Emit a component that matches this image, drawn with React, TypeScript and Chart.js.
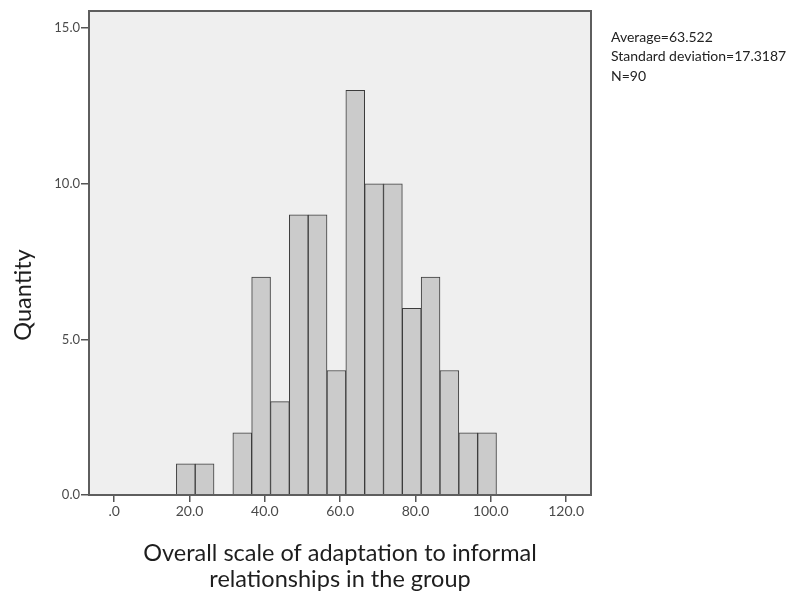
import { useEffect, useRef } from 'react';
import { Chart, registerables } from 'chart.js';

Chart.register(...registerables);

// Histogram bins (center of each 5-unit bin) and their counts
const binCenters = [19, 24, 29, 34, 39, 44, 49, 54, 59, 64, 69, 74, 79, 84, 89, 94, 99];
const counts = [1, 1, 0, 2, 7, 3, 9, 9, 4, 13, 10, 10, 6, 7, 4, 2, 2];

// Axis ticks
const xTicks = [0, 20, 40, 60, 80, 100, 120];
const yTicks = [0, 5, 10, 15];
const xRange = [-6.7, 126.6];
const yRange = [0, 15.55];

// Texts
const yTitle = 'Quantity';
const xTitleLines = ['Overall scale of adaptation to informal', 'relationships in the group'];
const statsLines = ['Average=63.522', 'Standard deviation=17.3187', 'N=90'];

const FONT = 'Lato, "Open Sans", sans-serif';

const fmtX = (v: number) => (v === 0 ? '.0' : v.toFixed(1));
const fmtY = (v: number) => v.toFixed(1);

export default function App() {
  const ref = useRef<HTMLCanvasElement | null>(null);

  useEffect(() => {
    const canvas = ref.current;
    if (!canvas) return;

    const decor = {
      id: 'decor',
      beforeDraw(chart: any) {
        const { ctx, chartArea: a } = chart;
        ctx.save();
        ctx.fillStyle = '#ffffff';
        ctx.fillRect(0, 0, chart.width, chart.height);
        ctx.fillStyle = '#efefef';
        ctx.fillRect(a.left, a.top, a.right - a.left, a.bottom - a.top);
        ctx.restore();
      },
      afterDatasetsDraw(chart: any) {
        const { ctx, chartArea: a } = chart;
        ctx.save();
        ctx.strokeStyle = '#5e5e5e';
        ctx.lineWidth = 2;
        ctx.strokeRect(a.left, a.top, a.right - a.left, a.bottom - a.top);
        ctx.restore();
      },
      afterDraw(chart: any) {
        const { ctx, chartArea: a } = chart;
        ctx.save();
        ctx.fillStyle = '#1e1e1e';
        // y title
        ctx.font = `23.5px ${FONT}`;
        ctx.textAlign = 'center';
        ctx.textBaseline = 'alphabetic';
        ctx.save();
        ctx.translate(31, 295);
        ctx.rotate(-Math.PI / 2);
        ctx.fillText(yTitle, 0, 0);
        ctx.restore();
        // x title
        const cx = (a.left + a.right) / 2;
        ctx.fillText(xTitleLines[0], cx, 561);
        ctx.fillText(xTitleLines[1], cx, 587);
        // stats
        ctx.font = `14px ${FONT}`;
        ctx.textAlign = 'left';
        ctx.textBaseline = 'middle';
        ctx.fillStyle = '#222';
        statsLines.forEach((t, i) => ctx.fillText(t, 611, 37 + i * 19.5));
        ctx.restore();
      },
    };

    const chart = new Chart(canvas, {
      type: 'bar',
      data: {
        datasets: [
          {
            data: binCenters.map((x, i) => ({ x, y: counts[i] })),
            backgroundColor: '#cbcbcb',
            borderColor: '#3c3c3c',
            borderWidth: 1,
            barPercentage: 1,
            categoryPercentage: 1,
            borderSkipped: 'start',
          } as any,
        ],
      },
      options: {
        responsive: false,
        animation: false,
        devicePixelRatio: 1,
        layout: { padding: { top: 11, right: 202, left: 0, bottom: 0 } },
        plugins: {
          legend: { display: false },
          tooltip: { enabled: false },
          title: { display: false },
        },
        scales: {
          x: {
            type: 'linear',
            min: xRange[0],
            max: xRange[1],
            offset: false,
            afterBuildTicks: (s: any) => {
              s.ticks = xTicks.map((v) => ({ value: v }));
            },
            afterFit: (s: any) => {
              s.height = 99;
            },
            ticks: {
              callback: (v: any) => fmtX(Number(v)),
              color: '#4a4a4a',
              font: { family: FONT, size: 14 },
              padding: 1,
              maxRotation: 0,
              autoSkip: false,
            },
            grid: { offset: false, drawOnChartArea: false, drawTicks: true, tickLength: 7, color: '#555', lineWidth: 1.5 },
            border: { display: false },
          },
          y: {
            type: 'linear',
            min: yRange[0],
            max: yRange[1],
            afterBuildTicks: (s: any) => {
              s.ticks = yTicks.map((v) => ({ value: v }));
            },
            afterFit: (s: any) => {
              s.width = 89;
            },
            ticks: {
              callback: (v: any) => fmtY(Number(v)),
              color: '#4a4a4a',
              font: { family: FONT, size: 13 },
              padding: 1,
              autoSkip: false,
            },
            grid: { offset: false, drawOnChartArea: false, drawTicks: true, tickLength: 8, color: '#555', lineWidth: 1.5 },
            border: { display: false },
          },
        },
      } as any,
      plugins: [decor],
    });

    return () => chart.destroy();
  }, []);

  return (
    <div style={{ position: 'absolute', left: 0, top: 0, width: 793, height: 594, background: '#fff' }}>
      <canvas ref={ref} width={793} height={594} style={{ display: 'block' }} />
    </div>
  );
}
